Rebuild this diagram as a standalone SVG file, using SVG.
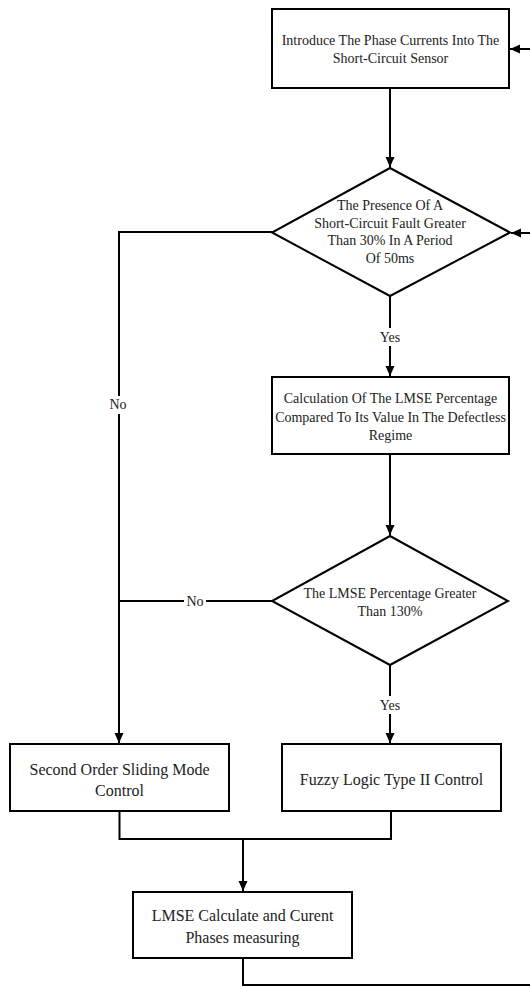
<svg xmlns="http://www.w3.org/2000/svg" width="530" height="986" viewBox="0 0 530 986">
<style>
.box{fill:#fff;stroke:#000;stroke-width:2}
.ln{fill:none;stroke:#000;stroke-width:2}
text{font-family:'Liberation Serif','Times New Roman',Times,serif;fill:#222;text-anchor:middle}
.t{font-size:14px}
.t15{font-size:16px}
.lbl{font-size:14px}
.bg{fill:#fff;stroke:none}
</style>
<defs>
<marker id="ah" markerUnits="userSpaceOnUse" markerWidth="10" markerHeight="10" refX="10" refY="5" orient="auto">
<path d="M0,0.5 L10,5 L0,9.5 Z" fill="#000"/>
</marker>
</defs>
<rect width="530" height="986" fill="#fff"/>
<g id="connectors">
<path class="ln" d="M390,88 V167" marker-end="url(#ah)"/>
<path class="ln" d="M390,296 V376" marker-end="url(#ah)"/>
<path class="ln" d="M390,454 V535" marker-end="url(#ah)"/>
<path class="ln" d="M390,665 V743" marker-end="url(#ah)"/>
<path class="ln" d="M272,232 H119 V743" marker-end="url(#ah)"/>
<path class="ln" d="M272,601 H119"/>
<path class="ln" d="M119.5,811 V839 H391 V811"/>
<path class="ln" d="M243,839 V891" marker-end="url(#ah)"/>
<path class="ln" d="M243,958 V985 H531"/>
<path class="ln" d="M531,49 H510" marker-end="url(#ah)"/>
<path class="ln" d="M531,233 H511" marker-end="url(#ah)"/>
<rect class="bg" x="377" y="328" width="26" height="18"/>
<text class="lbl" x="390" y="342">Yes</text>
<rect class="bg" x="107" y="396" width="23" height="18"/>
<text class="lbl" x="118" y="409">No</text>
<rect class="bg" x="184" y="593" width="22" height="18"/>
<text class="lbl" x="195" y="606">No</text>
<rect class="bg" x="377" y="696" width="26" height="18"/>
<text class="lbl" x="390" y="710">Yes</text>
</g>
<g id="n1">
<rect class="box" x="272" y="9" width="237" height="79"/>
<text class="t" x="390.5" y="45">Introduce The Phase Currents Into The</text>
<text class="t" x="390.5" y="63">Short-Circuit Sensor</text>
</g>
<g id="n2">
<polygon class="box" points="390,168 510,232.5 390,296 272,232.5"/>
<text class="t" x="390" y="210">The Presence Of A</text>
<text class="t" x="390" y="227.5">Short-Circuit Fault Greater</text>
<text class="t" x="390" y="245">Than 30% In A Period</text>
<text class="t" x="390" y="262.5">Of 50ms</text>
</g>
<g id="n3">
<rect class="box" x="272" y="377" width="237" height="77"/>
<text class="t" x="390.5" y="403">Calculation Of The LMSE Percentage</text>
<text class="t" x="390.5" y="421.5">Compared To Its Value In The Defectless</text>
<text class="t" x="390.5" y="440">Regime</text>
</g>
<g id="n4">
<polygon class="box" points="390,536 508,601 390,665 272,601"/>
<text class="t" x="390" y="598">The LMSE Percentage Greater</text>
<text class="t" x="390" y="616">Than 130%</text>
</g>
<g id="n5">
<rect class="box" x="10" y="744" width="219" height="67"/>
<text class="t15" x="119.5" y="774.5">Second Order Sliding Mode</text>
<text class="t15" x="119.5" y="795.5">Control</text>
</g>
<g id="n6">
<rect class="box" x="282" y="744" width="219" height="67"/>
<text class="t15" x="391.5" y="785">Fuzzy Logic Type II Control</text>
</g>
<g id="n7">
<rect class="box" x="133" y="892" width="219" height="66"/>
<text class="t15" x="242.5" y="920.5">LMSE Calculate and Curent</text>
<text class="t15" x="242.5" y="942.5">Phases measuring</text>
</g>
</svg>
